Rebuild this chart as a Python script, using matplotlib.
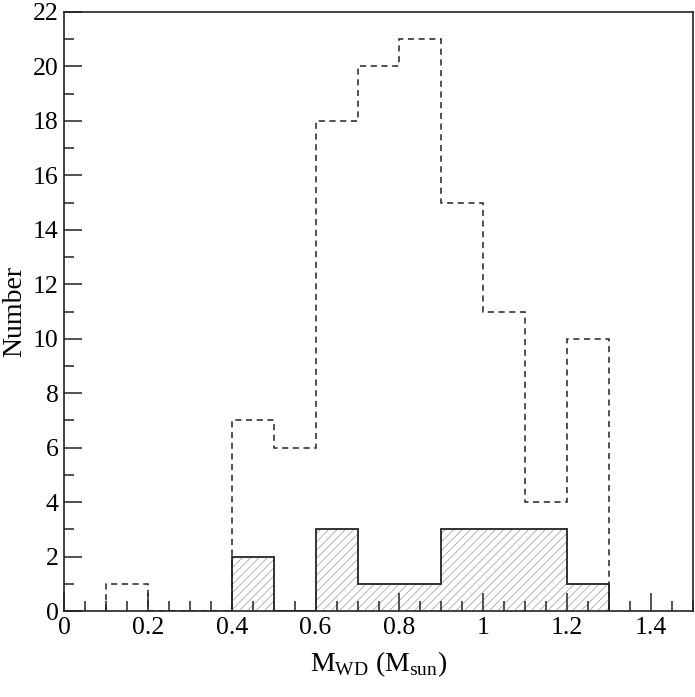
import matplotlib
matplotlib.use("Agg")
import matplotlib.pyplot as plt
from matplotlib.ticker import MultipleLocator
import numpy as np

# Data
edges = [0.1, 0.2, 0.3, 0.4, 0.5, 0.6, 0.7, 0.8, 0.9, 1.0, 1.1, 1.2, 1.3]
all_counts = [1, 0, 0, 7, 6, 18, 20, 21, 15, 11, 4, 10]
sub_edges = [0.4, 0.5, 0.6, 0.7, 0.8, 0.9, 1.0, 1.1, 1.2, 1.3]
sub_counts = [2, 0, 3, 1, 1, 3, 3, 3, 1]

plt.rcParams['font.family'] = ['Liberation Serif', 'DejaVu Serif']
plt.rcParams['mathtext.fontset'] = 'custom'
plt.rcParams['mathtext.rm'] = 'Liberation Serif'
plt.rcParams['hatch.linewidth'] = 0.5

fig = plt.figure(figsize=(6.95, 6.97), dpi=100)
ax = fig.add_axes([64/695, 1-611/697, (693-64)/695, (611-12)/697])

# hatched fill
ax.stairs(sub_counts, sub_edges, fill=True, facecolor='none', edgecolor='#999999',
          hatch='////', linewidth=0, zorder=1)
# solid outline
ax.stairs(sub_counts, sub_edges, fill=False, color='#333333', linewidth=1.4, zorder=2)
# dashed histogram
ax.stairs(all_counts, edges, fill=False, color='#222222', linewidth=1.1,
          linestyle=(0, (4, 3)), zorder=2)

ax.set_xlim(0, 1.5)
ax.set_ylim(0, 22)
ax.xaxis.set_major_locator(MultipleLocator(0.2))
ax.xaxis.set_minor_locator(MultipleLocator(0.05))
ax.yaxis.set_major_locator(MultipleLocator(2))
ax.yaxis.set_minor_locator(MultipleLocator(1))
ax.set_xticks([0, 0.2, 0.4, 0.6, 0.8, 1.0, 1.2, 1.4])
ax.set_xticklabels(['0', '0.2', '0.4', '0.6', '0.8', '1', '1.2', '1.4'])
ax.tick_params(which='major', direction='in', length=13, width=1.2, labelsize=18.5, pad=4,
               color='#333333')
ax.tick_params(which='minor', direction='in', length=7, width=1.2, color='#333333')
ax.tick_params(top=False, right=False, which='both')
for s in ax.spines.values():
    s.set_linewidth(1.2)
    s.set_color('#222222')
    s.set_zorder(3)

ax.set_xlabel(r'M$_{\mathrm{WD}}$ (M$_{\mathrm{sun}}$)', fontsize=20, labelpad=8)
ax.set_ylabel('Number', fontsize=20, labelpad=4)

fig.savefig('out.png', dpi=100)
